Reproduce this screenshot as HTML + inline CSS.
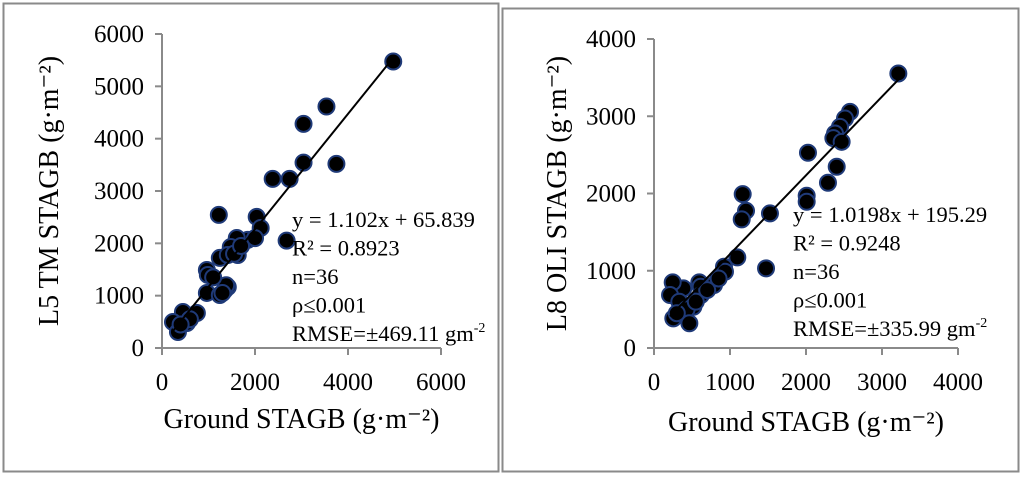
<!DOCTYPE html>
<html><head><meta charset="utf-8"><style>
html,body{margin:0;padding:0;background:#fff;}
svg{display:block;font-family:"Liberation Serif",serif;}
</style></head><body>
<svg id="c" width="1024" height="479" xmlns="http://www.w3.org/2000/svg">
<rect x="3.5" y="3.5" width="495" height="468" fill="none" stroke="#8a8a8a" stroke-width="2"/>
<rect x="502.5" y="8.5" width="516" height="463" fill="none" stroke="#8a8a8a" stroke-width="2"/>
</svg>
<script>
const leftX=[4973,3537,3044,3044,3751,2380,2744,1222,2036,2122,1843,2680,1608,1629,1479,1243,1415,965,986,965,1243,1415,1350,450,750,236,536,343,1380,1550,2000,1100,1300,600,400,1700];
const leftY=[5474,4614,4283,3543,3518,3231,3231,2543,2505,2294,2065,2052,2103,1778,1931,1721,1778,1491,1396,1052,1013,1166,1109,688,669,497,478,306,1200,1800,2100,1350,1050,550,450,1950];
const rightX=[3215,2579,2513,2447,2382,2360,2469,2026,2404,2289,2009,2009,1167,1211,1154,1526,1096,1474,921,934,789,596,614,618,386,246,211,333,518,430,254,465,300,550,700,850];
const rightY=[3554,3057,2971,2863,2777,2717,2669,2527,2346,2139,1971,1893,1992,1776,1665,1742,1173,1031,1052,987,815,850,793,686,772,850,686,599,534,501,384,320,450,600,750,900];
const leftTicksX=[0,2000,4000,6000];
const leftTicksY=[0,1000,2000,3000,4000,5000,6000];
const rightTicksX=[0,1000,2000,3000,4000];
const rightTicksY=[0,1000,2000,3000,4000];
const leftFit=[1.102,65.839], rightFit=[1.0198,195.29];
const leftStats=["y = 1.102x + 65.839","R² = 0.8923","n=36","ρ≤0.001","RMSE=±469.11 gm"];
const rightStats=["y = 1.0198x + 195.29","R² = 0.9248","n=36","ρ≤0.001","RMSE=±335.99 gm"];
const NS="http://www.w3.org/2000/svg", svg=document.getElementById('c');
function mk(t,a,txt){const e=document.createElementNS(NS,t);for(const k in a)e.setAttribute(k,a[k]);if(txt!==undefined)e.textContent=txt;svg.appendChild(e);return e;}
function panel(p){
 const sx=v=>p.x0+(v-p.xmin)/(p.xmax-p.xmin)*(p.x1-p.x0);
 const sy=v=>p.y0-(v-p.ymin)/(p.ymax-p.ymin)*(p.y0-p.y1);
 let e=mk('line',{x1:p.x0,y1:p.y0,x2:p.x0,y2:p.y1,stroke:'#8a8a8a','stroke-width':2});
 
 e=mk('line',{x1:p.x0-7,y1:p.y0,x2:p.x1,y2:p.y0,stroke:'#8a8a8a','stroke-width':2});
 
 p.ty.forEach(v=>{const y=sy(v);
  e=mk('line',{x1:p.x0-7,y1:y,x2:p.x0,y2:y,stroke:'#8a8a8a','stroke-width':2});
  
  e=mk('text',{x:p.x0-18,y:y+8,'text-anchor':'end','font-size':25},v);
  });
 p.tx.forEach(v=>{const x=sx(v);
  e=mk('line',{x1:x,y1:p.y0,x2:x,y2:p.y0+7,stroke:'#8a8a8a','stroke-width':2});
  
  e=mk('text',{x:x,y:p.y0+42,'text-anchor':'middle','font-size':25},v);
  });
 p.xs.forEach((v,i)=>{e=mk('circle',{cx:sx(v),cy:sy(p.ys[i]),r:8,fill:'#000',stroke:'#1f3a78','stroke-width':2});
  });
 const xa=Math.min(...p.xs), xb=Math.max(...p.xs);
 e=mk('line',{x1:sx(xa),y1:sy(p.fit[0]*xa+p.fit[1]),x2:sx(xb),y2:sy(p.fit[0]*xb+p.fit[1]),stroke:'#000','stroke-width':2});
 
 p.stats.forEach((s,i)=>{e=mk('text',{x:p.sx,y:p.sy+i*28.5,'font-size':22.5},s);
  
  if(i==4){const t=document.createElementNS(NS,'tspan');t.setAttribute('font-size',14);t.setAttribute('dy',-9);t.textContent='-2';e.appendChild(t);}});
 e=mk('text',{x:sx((p.xmin+p.xmax)/2),y:p.xt,'text-anchor':'middle','font-size':28},'Ground STAGB (g·m⁻²)');
 
 e=mk('text',{x:0,y:0,'text-anchor':'middle','font-size':28,transform:`translate(${p.tx0},${(p.y0+p.y1)/2}) rotate(-90)`},p.ytitle);
 
}
panel({id:'left',x0:162,x1:441,y0:348,y1:34,xmin:0,xmax:6000,ymin:0,ymax:6000,tx:leftTicksX,ty:leftTicksY,xs:leftX,ys:leftY,fit:leftFit,stats:leftStats,sx:292,sy:227,tx0:58,xt:428,ytitle:'L5 TM STAGB (g·m⁻²)'});
panel({id:'right',x0:654,x1:958,y0:348,y1:39,xmin:0,xmax:4000,ymin:0,ymax:4000,tx:rightTicksX,ty:rightTicksY,xs:rightX,ys:rightY,fit:rightFit,stats:rightStats,sx:793,sy:222,tx0:566,xt:431,ytitle:'L8 OLI STAGB (g·m⁻²)'});
</script>
</body></html>
